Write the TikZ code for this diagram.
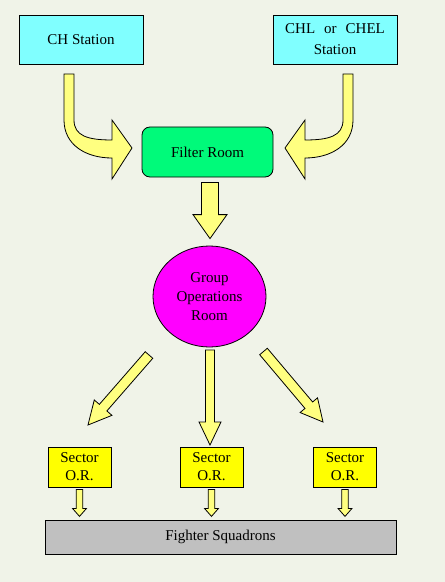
\documentclass[tikz,border=0pt]{standalone}
\usepackage{fontspec}
\setmainfont{Liberation Serif}
\usepackage{xcolor}
\usepackage{tikz}
\usetikzlibrary{shapes,arrows,positioning,calc}
\definecolor{paper}{RGB}{240,243,232}
\definecolor{stationcyan}{RGB}{128,255,255}
\definecolor{filtergreen}{RGB}{0,250,122}
\definecolor{groupmagenta}{RGB}{255,0,255}
\definecolor{sectoryellow}{RGB}{255,255,0}
\definecolor{fightergray}{RGB}{192,192,192}
\definecolor{arrowyellow}{RGB}{255,255,128}
\tikzstyle{box} = [rectangle, draw, line width=0.8bp, inner sep=0pt, align=center, font=\fontsize{15bp}{21bp}\selectfont]
\tikzstyle{station} = [box, fill=stationcyan, minimum width=124bp, minimum height=49bp]
\tikzstyle{sector} = [box, fill=sectoryellow, minimum width=63bp, minimum height=40bp, font=\fontsize{15bp}{18bp}\selectfont]
\tikzstyle{bigarrow} = [draw, line width=0.8bp, fill=arrowyellow, line join=miter]
% tail, tip, shaft half width, head half width, head length
\newcommand{\blockarrow}[5]{%
  \coordinate (hb) at ($(#2)!#5!(#1)$);
  \draw[bigarrow] ($(#1)!#3!90:(#2)$) -- ($(hb)!#3!90:(#2)$) -- ($(hb)!#4!90:(#2)$) -- (#2)
    -- ($(hb)!#4!-90:(#2)$) -- ($(hb)!#3!-90:(#2)$) -- ($(#1)!#3!-90:(#2)$) -- cycle;}

\begin{document}
\begin{tikzpicture}[x=1bp, y=-1bp]
    \fill[paper] (0,0) rectangle (445,582);

    \node[station] (ch) at (81,39.5) {CH Station};
    \node[station] (chl) at (335,39.5) {CHL\hspace{0.6em}or\hspace{0.6em}CHEL\\Station};
    \node[box, fill=filtergreen, rounded corners=8bp, minimum width=131bp, minimum height=50bp] (filter) at (207.5,152) {Filter Room};
    \node[box, ellipse, fill=groupmagenta, minimum width=113bp, minimum height=101bp, font=\fontsize{15bp}{19bp}\selectfont] (gor) at (209.5,296.5) {Group\\Operations\\Room};

    \node[sector] (sec1) at (79.5,467) {Sector\\O.R.};
    \node[sector] (sec2) at (211.5,467) {Sector\\O.R.};
    \node[sector] (sec3) at (345,467) {Sector\\O.R.};
    \node[box, fill=fightergray, minimum width=351bp, minimum height=34bp] (fighter) at (220.5,537) {Fighter Squadrons};

    % curved arrows into the filter room
    \draw[bigarrow] (64,74) -- (64,120) .. controls (64,145) and (86,158) .. (112,158) -- (112,179) -- (132,148)
        -- (112,120) -- (112,140) .. controls (88,140) and (74,136) .. (74,120) -- (74,74) -- cycle;
    \draw[bigarrow] (353,74) -- (353,120) .. controls (353,145) and (331,158) .. (305,158) -- (305,179) -- (285,148)
        -- (305,120) -- (305,140) .. controls (329,140) and (343,136) .. (343,120) -- (343,74) -- cycle;

    \coordinate (f0) at ($(filter.south)+(2.5,5)$);
    \coordinate (f1) at ($(gor.north)+(0.5,-7)$);
    \blockarrow{f0}{f1}{8.5bp}{17bp}{24bp}

    \coordinate (g1) at (149,355);
    \coordinate (s1) at (88,425);
    \coordinate (g2) at (210,350);
    \coordinate (s2) at (210,445);
    \coordinate (g3) at (263.5,351.5);
    \coordinate (s3) at (323,422);
    \blockarrow{g1}{s1}{5bp}{11.7bp}{23bp}
    \blockarrow{g2}{s2}{4.5bp}{11bp}{23bp}
    \blockarrow{g3}{s3}{5bp}{11.4bp}{22bp}

    \foreach \s in {1,2,3} {
        \coordinate (t\s) at ($(sec\s.south)+(0,2)$);
        \coordinate (q\s) at ($(sec\s.south)+(0,29)$);
        \blockarrow{t\s}{q\s}{3.3bp}{7bp}{8bp}
    }
\end{tikzpicture}
\end{document}
